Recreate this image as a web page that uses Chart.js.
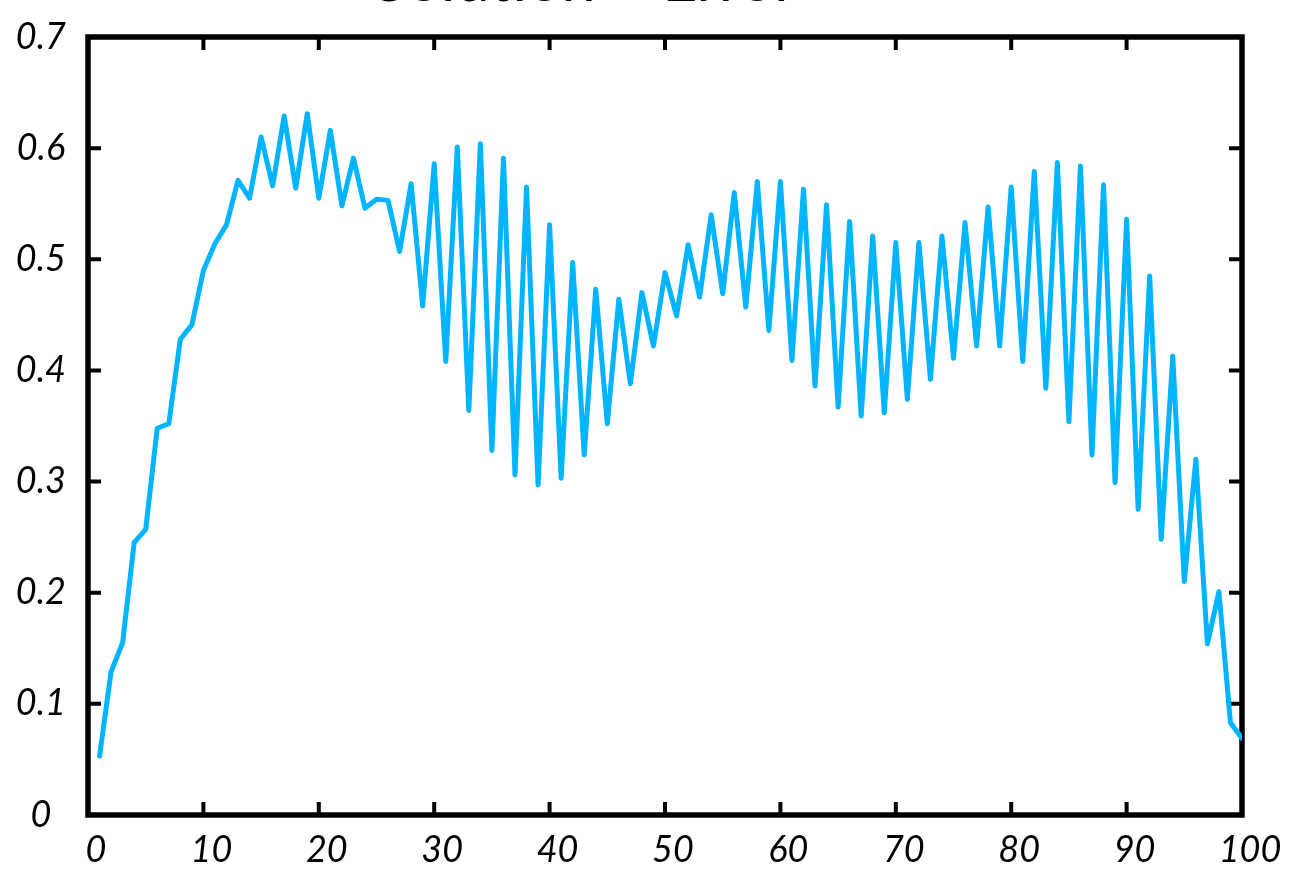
<!DOCTYPE html>
<html>
<head>
<meta charset="utf-8">
<script src="https://cdn.jsdelivr.net/npm/chart.js@4/dist/chart.umd.min.js"></script>
<style>
  html, body { margin: 0; padding: 0; background: #ffffff; overflow: hidden; }
  #wrap { position: absolute; left: 0; top: 0; width: 1299px; height: 872px; }
</style>
</head>
<body>
<div id="wrap"><canvas id="c"></canvas></div>
<script>
const chartTitle = 'Solution \u2013 Error';

const steps = [1,2,3,4,5,6,7,8,9,10,11,12,13,14,15,16,17,18,19,20,
  21,22,23,24,25,26,27,28,29,30,31,32,33,34,35,36,37,38,39,40,
  41,42,43,44,45,46,47,48,49,50,51,52,53,54,55,56,57,58,59,60,
  61,62,63,64,65,66,67,68,69,70,71,72,73,74,75,76,77,78,79,80,
  81,82,83,84,85,86,87,88,89,90,91,92,93,94,95,96,97,98,99,100];

const errorValues = [
  0.053,0.129,0.155,0.245,0.257,0.348,0.352,0.428,0.441,0.490,
  0.514,0.531,0.571,0.555,0.610,0.566,0.629,0.564,0.631,0.555,
  0.616,0.548,0.591,0.546,0.554,0.553,0.507,0.568,0.458,0.586,
  0.408,0.601,0.364,0.604,0.328,0.591,0.306,0.565,0.297,0.531,
  0.303,0.497,0.324,0.473,0.352,0.464,0.388,0.470,0.422,0.488,
  0.449,0.513,0.466,0.540,0.469,0.560,0.457,0.570,0.436,0.570,
  0.409,0.563,0.386,0.549,0.367,0.534,0.359,0.521,0.362,0.515,
  0.374,0.515,0.392,0.521,0.411,0.533,0.422,0.547,0.422,0.565,
  0.408,0.579,0.384,0.587,0.354,0.584,0.324,0.567,0.299,0.536,
  0.275,0.485,0.248,0.413,0.210,0.320,0.154,0.201,0.083,0.069];

const xTickValues = [0,10,20,30,40,50,60,70,80,90,100];
const xTickLabels = ['0','10','20','30','40','50','60','70','80','90','100'];
const yTickValues = [0,0.1,0.2,0.3,0.4,0.5,0.6,0.7];
const yTickLabels = ['0','0.1','0.2','0.3','0.4','0.5','0.6','0.7'];

const points = steps.map((s, i) => ({ x: s, y: errorValues[i] }));

function labelFor(values, labels, v) {
  for (let i = 0; i < values.length; i++) {
    if (Math.abs(values[i] - v) < 1e-6) return labels[i];
  }
  return '';
}

const framePlugin = {
  id: 'frame',
  beforeDatasetsDraw(chart) {
    const ctx = chart.ctx;
    const a = chart.chartArea;
    const xs = chart.scales.x, ys = chart.scales.y;
    const tickLen = 13;
    ctx.save();
    ctx.strokeStyle = '#000000';
    ctx.lineCap = 'butt';
    ctx.lineWidth = 4;
    xTickValues.forEach(v => {
      const px = xs.getPixelForValue(v);
      ctx.beginPath();
      ctx.moveTo(px, a.bottom); ctx.lineTo(px, a.bottom - tickLen);
      ctx.moveTo(px, a.top); ctx.lineTo(px, a.top + tickLen);
      ctx.stroke();
    });
    yTickValues.forEach(v => {
      const py = ys.getPixelForValue(v);
      ctx.beginPath();
      ctx.moveTo(a.left, py); ctx.lineTo(a.left + tickLen, py);
      ctx.moveTo(a.right, py); ctx.lineTo(a.right - tickLen, py);
      ctx.stroke();
    });
    ctx.lineWidth = 5.5;
    ctx.lineJoin = 'miter';
    ctx.strokeRect(a.left, a.top, a.right - a.left, a.bottom - a.top);
    ctx.restore();
  }
};

const titlePlugin = {
  id: 'clippedTitle',
  afterDraw(chart) {
    const ctx = chart.ctx;
    ctx.save();
    ctx.fillStyle = '#000000';
    ctx.font = '61px Lato';
    ctx.textAlign = 'center';
    ctx.textBaseline = 'alphabetic';
    ctx.fillText(chartTitle, 585, 1);
    ctx.restore();
  }
};

const tickFont = { family: 'Lato', style: 'italic', size: 36 };

new Chart(document.getElementById('c'), {
  type: 'line',
  data: {
    datasets: [{
      label: 'Error',
      data: points,
      borderColor: '#00B4FF',
      backgroundColor: '#00B4FF',
      borderWidth: 5,
      borderJoinStyle: 'round',
      borderCapStyle: 'round',
      pointRadius: 0,
      pointHoverRadius: 0,
      tension: 0,
      fill: false
    }]
  },
  options: {
    responsive: true,
    maintainAspectRatio: false,
    animation: false,
    events: [],
    layout: { padding: { top: 37, right: 57, left: 0, bottom: 0 } },
    plugins: {
      legend: { display: false },
      tooltip: { enabled: false },
      title: { display: false }
    },
    scales: {
      x: {
        type: 'linear',
        min: 0, max: 100,
        border: { display: false },
        grid: { display: false, drawTicks: false },
        afterFit(scale) { scale.height = 57; scale.paddingLeft = 0; scale.paddingRight = 0; },
        afterBuildTicks(scale) { scale.ticks = xTickValues.map(v => ({ value: v })); },
        ticks: {
          autoSkip: false, maxRotation: 0, minRotation: 0,
          padding: 14,
          labelOffset: 8,
          color: '#000000',
          font: tickFont,
          callback: (v) => labelFor(xTickValues, xTickLabels, v)
        }
      },
      y: {
        type: 'linear',
        min: 0, max: 0.7,
        border: { display: false },
        grid: { display: false, drawTicks: false },
        afterFit(scale) { scale.width = 88; scale.paddingTop = 0; scale.paddingBottom = 0; },
        afterBuildTicks(scale) { scale.ticks = yTickValues.map(v => ({ value: v })); },
        ticks: {
          autoSkip: false,
          padding: 22,
          crossAlign: 'center',
          color: '#000000',
          font: tickFont,
          callback: (v) => labelFor(yTickValues, yTickLabels, v)
        }
      }
    }
  },
  plugins: [framePlugin, titlePlugin]
});
</script>
</body>
</html>
